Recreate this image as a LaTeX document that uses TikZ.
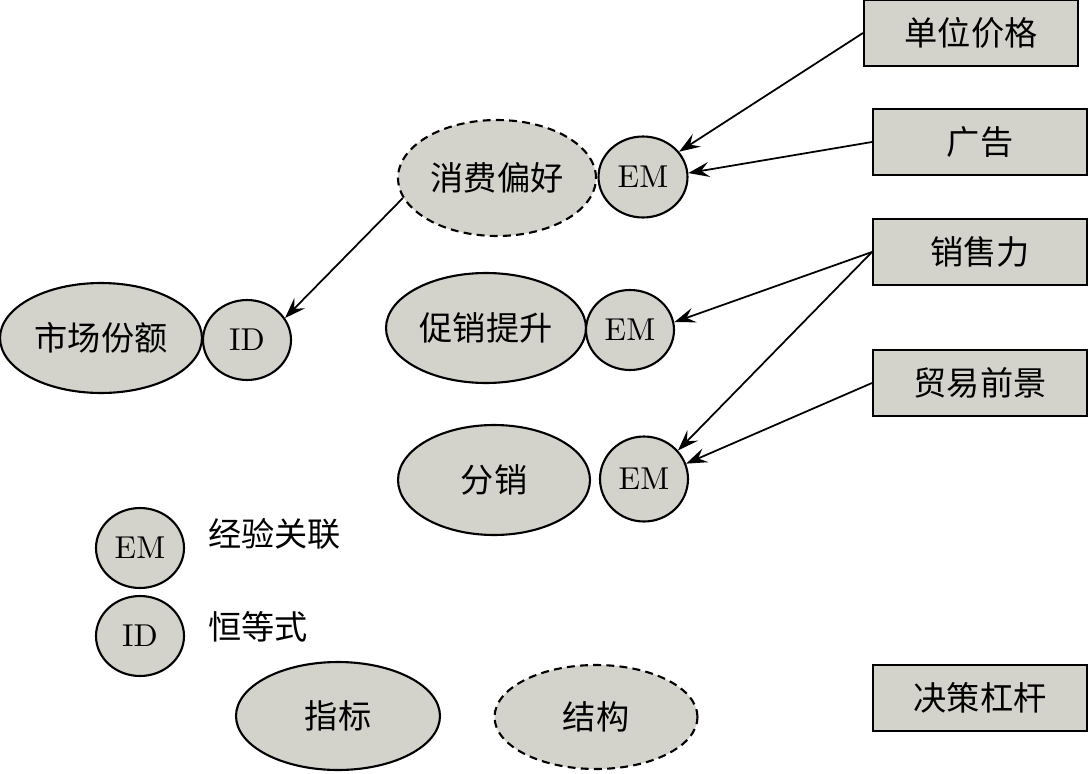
\documentclass[tikz,border=0pt]{standalone}
\usepackage{fontspec}
\setmainfont{lmroman10-regular}[Extension=.otf]
\newfontfamily\cjk{Noto Sans CJK SC}[Scale=1.05]
\usetikzlibrary{shapes.geometric, arrows.meta}
\definecolor{nodefill}{HTML}{D3D3CB}

\begin{document}
\begin{tikzpicture}[x=0.02cm, y=-0.02cm, font=\fontsize{18}{21}\selectfont,
    oval/.style={ellipse, draw, fill=nodefill, line width=1.2pt, inner sep=0pt},
    dashoval/.style={oval, dash pattern=on 4.5pt off 3pt},
    lever/.style={rectangle, draw, fill=nodefill, line width=1.2pt,
      minimum width=4.28cm, minimum height=1.32cm},
    link/.style={-{Stealth[length=0.42cm, width=0.3cm, inset=0.16cm]}, line width=1pt}]
    \useasboundingbox (0,0) rectangle (1089,774);
    % Metric and identity
    \node[oval, minimum width=4.04cm, minimum height=2.2cm] (share) at (101,338) {\cjk 市场份额};
    \node[oval, minimum width=1.76cm, minimum height=1.6cm] (id) at (247,340) {ID};
    % Structures with empirical links
    \node[dashoval, minimum width=3.96cm, minimum height=2.32cm] (pref) at (497,178) {\cjk 消费偏好};
    \node[oval, minimum width=1.78cm, minimum height=1.62cm] (em1) at (643,177) {EM};
    \node[oval, minimum width=4.0cm, minimum height=2.2cm] (promo) at (486,328) {\cjk 促销提升};
    \node[oval, minimum width=1.76cm, minimum height=1.6cm] (em2) at (630,330) {EM};
    \node[oval, minimum width=3.84cm, minimum height=2.2cm] (dist) at (494,480) {\cjk 分销};
    \node[oval, minimum width=1.76cm, minimum height=1.7cm] (em3) at (644,479) {EM};
    % Decision levers
    \node[lever] (price) at (971,33)  {\cjk 单位价格};
    \node[lever] (ad)    at (980,142) {\cjk 广告};
    \node[lever] (force) at (980,252) {\cjk 销售力};
    \node[lever] (trade) at (980,383) {\cjk 贸易前景};
    % Connectors
    \draw[link] (pref.192) -- (id.30);
    \draw[link] (price.west) -- (em1.35);
    \draw[link] (ad.west) -- (em1.5);
    \draw[link] (force.west) -- (em2.10);
    \draw[link] (force.west) -- (em3.40);
    \draw[link] (trade.west) -- (em3.20);
    % Legend
    \node[oval, minimum width=1.76cm, minimum height=1.6cm] (legem) at (140,548) {EM};
    \node[anchor=west] (legemtxt) at (202,534) {\cjk 经验关联};
    \node[oval, minimum width=1.76cm, minimum height=1.6cm] (legid) at (140,636) {ID};
    \node[anchor=west] (legidtxt) at (202,627) {\cjk 恒等式};
    \node[oval, minimum width=4.08cm, minimum height=2.16cm] (legkpi) at (338,716) {\cjk 指标};
    \node[dashoval, minimum width=4.06cm, minimum height=2.08cm] (legstruct) at (596,717) {\cjk 结构};
    \node[lever] (leglever) at (980,698) {\cjk 决策杠杆};
\end{tikzpicture}
\end{document}
